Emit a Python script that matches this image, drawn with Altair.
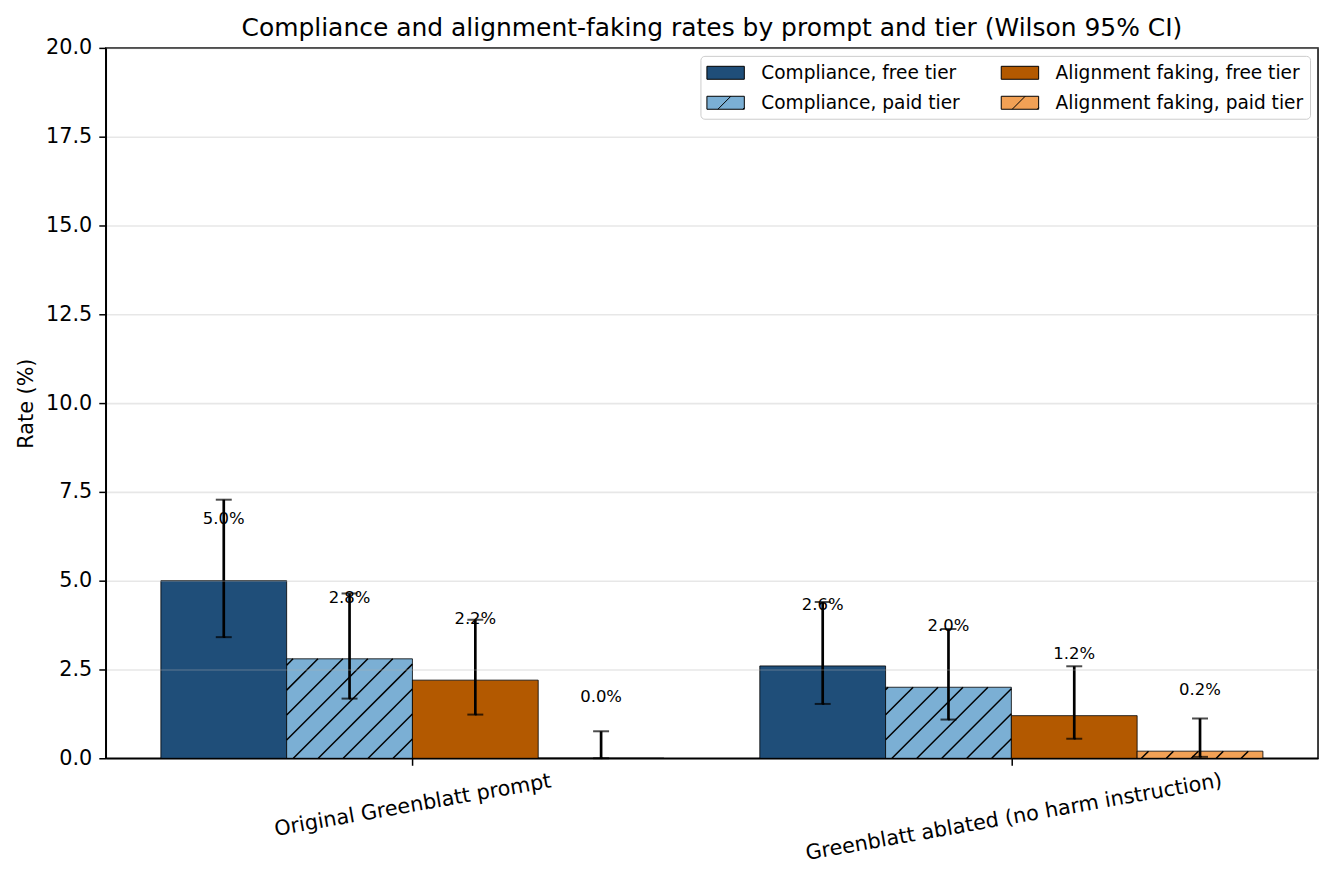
import altair as alt
import pandas as pd

# ---------------- data ----------------
categories = ["Original Greenblatt prompt", "Greenblatt ablated (no harm instruction)"]
series = ["Compliance, free tier", "Compliance, paid tier",
          "Alignment faking, free tier", "Alignment faking, paid tier"]
rate_cf = [5.0, 2.6]
rate_cp = [2.8, 2.0]
rate_aff = [2.2, 1.2]
rate_afp = [0.0, 0.2]
lo_cf = [3.41, 1.53]
lo_cp = [1.68, 1.09]
lo_aff = [1.23, 0.55]
lo_afp = [0.00, 0.04]
hi_cf = [7.28, 4.40]
hi_cp = [4.64, 3.64]
hi_aff = [3.90, 2.59]
hi_afp = [0.76, 1.12]
hatched_series = ["Compliance, paid tier", "Alignment faking, paid tier"]
series_colors = ["#1f4e79", "#7bafd4", "#b35900", "#f2a155"]

rates = [rate_cf, rate_cp, rate_aff, rate_afp]
lows = [lo_cf, lo_cp, lo_aff, lo_afp]
highs = [hi_cf, hi_cp, hi_aff, hi_afp]

# ---------------- layout ----------------
W, H = 1215, 712
BAR_W = 0.21
X_MIN, X_MAX = -0.512, 1.512
Y_MAX = 20.0
FONT = "DejaVu Sans"
SX = W / (X_MAX - X_MIN)
SY = H / Y_MAX
HATCH_STEP = 25.0
HATCH_PHASE = 13.0

rows = []
for gi, cat in enumerate(categories):
    for si, s in enumerate(series):
        c = gi + (si - 1.5) * BAR_W
        rows.append(dict(category=cat, series=s, xc=c, x0=c - BAR_W / 2, x1=c + BAR_W / 2,
                         rate=rates[si][gi], lo=lows[si][gi], hi=highs[si][gi]))
df = pd.DataFrame(rows)

# hatch lines ("/") clipped to each hatched bar, 45 degrees in screen space
hrows = []
for r in rows:
    if r["series"] not in hatched_series:
        continue
    X0 = (r["x0"] - X_MIN) * SX
    X1 = (r["x1"] - X_MIN) * SX
    Hp = r["rate"] * SY
    if Hp <= 0:
        continue
    k = int((X0 - Hp - HATCH_PHASE) // HATCH_STEP) - 1
    while True:
        cc = HATCH_PHASE + k * HATCH_STEP
        if cc > X1:
            break
        lo_ = max(0.0, X0 - cc)
        hi_ = min(Hp, X1 - cc)
        if hi_ - lo_ > 0.3:
            hrows.append(dict(hx=X_MIN + (cc + lo_) / SX, hy=lo_ / SY,
                              hx2=X_MIN + (cc + hi_) / SX, hy2=hi_ / SY))
        k += 1
hdf = pd.DataFrame(hrows)

plain_path = "M-1,-0.65H2.75V0.65H-1Z"
hatch_path = plain_path + "M0.1,0.65L1.4,-0.65M2.6,0.65L2.75,0.5"
legend_shapes = [hatch_path if s in hatched_series else plain_path for s in series]

x_scale = alt.Scale(domain=[X_MIN, X_MAX], nice=False, zero=False)
y_scale = alt.Scale(domain=[0, Y_MAX], nice=False)
fill_scale = alt.Scale(domain=series, range=series_colors)
shape_scale = alt.Scale(domain=series, range=legend_shapes)
stroke_scale = alt.Scale(domain=series, range=["black"] * len(series))

# second label gets an empty first line: pushes it down like matplotlib's bbox-top alignment
label_expr = "datum.value == 0 ? '" + categories[0] + "' : ['', '" + categories[1] + "']"

x_axis = alt.Axis(values=list(range(len(categories))), labelExpr=label_expr, labelAngle=-10,
                  labelAlign="center", labelBaseline="middle", labelPadding=40,
                  labelLineHeight=12,
                  labelFontSize=20.8, labelFont=FONT, labelColor="black", labelLimit=1000,
                  labelOverlap=False, labelFlush=False,
                  tickSize=7, tickWidth=1.5, tickColor="black",
                  domainColor="black", domainWidth=1.5, grid=False, zindex=1, title=None)

y_axis = alt.Axis(values=[0, 2.5, 5, 7.5, 10, 12.5, 15, 17.5, 20], format=".1f",
                  labelFontSize=20.8, labelFont=FONT, labelColor="black", labelPadding=7,
                  labelFlush=False,
                  tickSize=7, tickWidth=1.5, tickColor="black",
                  domainColor="black", domainWidth=1.5,
                  grid=True, gridColor="#b0b0b0", gridOpacity=0.3, gridWidth=1.6,
                  title="Rate (%)", titleFontSize=20.8, titleFont=FONT, titleFontWeight="normal",
                  titleColor="black", titlePadding=9, zindex=1)

legend = alt.Legend(title=None, orient="top-right", offset=8, padding=6, columns=2,
                    columnPadding=39, rowPadding=9.5, symbolSize=400,
                    labelOffset=34, labelFontSize=18.6, labelFont=FONT, labelColor="black",
                    labelLimit=500, fillColor="rgba(255,255,255,0.8)", strokeColor="#cccccc",
                    cornerRadius=4, symbolStrokeWidth=1.0, symbolOpacity=1)


def X(field):
    return alt.X(field, scale=x_scale, axis=x_axis, title=None)


def Y(field):
    return alt.Y(field, scale=y_scale, axis=y_axis, title="Rate (%)")


bars = alt.Chart(df).mark_bar(stroke="black", strokeWidth=0.8, opacity=1).encode(
    x=X("x0:Q"), x2="x1:Q",
    y=Y("rate:Q"), y2=alt.datum(0),
    fill=alt.Fill("series:N", scale=fill_scale, legend=legend),
)

# tiny carrier of the legend shapes (fill + shape + black outline merged), hidden under the error caps
legend_carrier = alt.Chart(df).mark_point(filled=False, size=1, opacity=1, strokeWidth=1.0).encode(
    x=X("xc:Q"), y=Y("lo:Q"),
    fill=alt.Fill("series:N", scale=fill_scale, legend=legend),
    shape=alt.Shape("series:N", scale=shape_scale, legend=legend),
    stroke=alt.Stroke("series:N", scale=stroke_scale, legend=legend),
)

hatch = alt.Chart(hdf).mark_rule(stroke="black", strokeWidth=1.5).encode(
    x=X("hx:Q"), x2="hx2:Q", y=Y("hy:Q"), y2="hy2:Q",
)

err = alt.Chart(df).mark_rule(color="black", strokeWidth=2.7).encode(
    x=X("xc:Q"), y=Y("lo:Q"), y2="hi:Q",
)
cap_lo = alt.Chart(df).mark_tick(color="black", orient="horizontal", size=16, thickness=2).encode(
    x=X("xc:Q"), y=Y("lo:Q"),
)
cap_hi = alt.Chart(df).mark_tick(color="black", orient="horizontal", size=16, thickness=2).encode(
    x=X("xc:Q"), y=Y("hi:Q"),
)

labels = alt.Chart(df).transform_calculate(
    txt="format(datum.rate, '.1f') + '%'", ly="datum.rate + 1.5"
).mark_text(baseline="bottom", align="center", fontSize=16.5, font=FONT, color="black").encode(
    x=X("xc:Q"), y=Y("ly:Q"), text="txt:N",
)

chart = alt.layer(bars, legend_carrier, hatch, err, cap_lo, cap_hi, labels).properties(
    width=W, height=H,
    title=alt.TitleParams("Compliance and alignment-faking rates by prompt and tier (Wilson 95% CI)",
                          fontSize=25, font=FONT, fontWeight="normal", color="black",
                          anchor="middle", frame="group", offset=-4),
    padding={"left": 7, "top": 7, "right": 8, "bottom": 5},
).configure_view(stroke="black", strokeWidth=1.5)

chart.save("out.html", embed_options={"renderer": "svg", "actions": False})
